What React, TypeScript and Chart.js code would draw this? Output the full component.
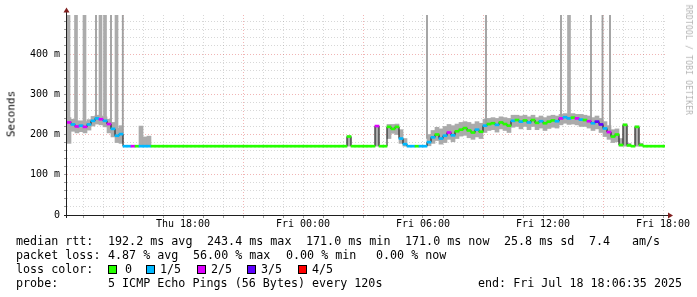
import React, { useEffect, useRef } from 'react';
import { Chart, registerables } from 'chart.js';

Chart.register(...registerables);

// ---- time base (hours since Thu 00:00) ----
const sampleStartHour = 12.2;
const sampleStepHours = 0.2;
const xMinHour = 12.2;
const xMaxHour = 42.1;
const yMaxMs = 497;

// ---- median rtt per sample (ms) ----
const medianMs = [
  230, 225, 220, 222, 219, 225, 234, 240, 238, 234,
  226, 214, 197, 201, 171, 171, 171, 171, 171, 171,
  171, 171, 171, 171, 171, 171, 171, 171, 171, 171,
  171, 171, 171, 171, 171, 171, 171, 171, 171, 171,
  171, 171, 171, 171, 171, 171, 171, 171, 171, 171,
  171, 171, 171, 171, 171, 171, 171, 171, 171, 171,
  171, 171, 171, 171, 171, 171, 171, 171, 171, 171,
  195, 171, 171, 171, 171, 171, 171, 221, 171, 171,
  219, 214, 219, 190, 176, 171, 171, 171, 171, 171,
  181, 193, 200, 190, 197, 205, 198, 208, 212, 216,
  210, 205, 212, 207, 222, 226, 228, 224, 230, 226,
  222, 234, 236, 232, 235, 230, 236, 229, 233, 228,
  232, 235, 233, 240, 243, 240, 242, 240, 237, 236,
  233, 228, 232, 225, 215, 206, 195, 200, 174, 224,
  173, 171, 219, 174, 171, 171, 171, 171, 171, 171,
];

// ---- lost pings (of 5) per sample ----
const lossCount = [
  2, 1, 2, 1, 2, 1, 1, 1, 2, 1,
  2, 1, 1, 1, 1, 1, 2, 0, 1, 1,
  1, 0, 0, 0, 0, 0, 0, 0, 0, 0,
  0, 0, 0, 0, 0, 0, 0, 0, 0, 0,
  0, 0, 0, 0, 0, 0, 0, 0, 0, 0,
  0, 0, 0, 0, 0, 0, 0, 0, 0, 0,
  0, 0, 0, 0, 0, 0, 0, 0, 0, 0,
  0, 0, 0, 0, 0, 0, 0, 2, 0, 0,
  0, 0, 0, 1, 1, 1, 1, 0, 1, 1,
  1, 1, 0, 1, 1, 2, 1, 0, 0, 0,
  0, 0, 1, 0, 1, 0, 0, 1, 0, 0,
  0, 1, 0, 1, 0, 1, 0, 0, 1, 0,
  0, 0, 1, 2, 1, 1, 0, 2, 1, 0,
  2, 1, 3, 3, 1, 2, 0, 0, 0, 0,
  0, 0, 0, 0, 0, 0, 0, 0, 0, 0,
];

// ---- smoke (min / max ping) per sample (ms) ----
const smokeLowMs = [
  178, 208, 204, 207, 204, 211, 221, 226, 224, 219,
  204, 194, 180, 178, 171, 171, 171, 171, 171, 171,
  171, 171, 171, 171, 171, 171, 171, 171, 171, 171,
  171, 171, 171, 171, 171, 171, 171, 171, 171, 171,
  171, 171, 171, 171, 171, 171, 171, 171, 171, 171,
  171, 171, 171, 171, 171, 171, 171, 171, 171, 171,
  171, 171, 171, 171, 171, 171, 171, 171, 171, 171,
  171, 171, 171, 171, 171, 171, 171, 171, 171, 171,
  190, 203, 200, 178, 171, 171, 171, 171, 171, 171,
  172, 178, 185, 176, 180, 188, 182, 190, 196, 198,
  192, 188, 194, 190, 205, 210, 212, 206, 214, 210,
  205, 218, 220, 214, 220, 212, 220, 212, 216, 210,
  215, 218, 216, 224, 228, 225, 226, 224, 220, 220,
  216, 210, 214, 205, 195, 188, 180, 182, 171, 171,
  171, 171, 171, 171, 171, 171, 171, 171, 171, 171,
];

const smokeHighMs = [
  242, 238, 234, 234, 232, 237, 245, 248, 246, 244,
  238, 230, 216, 222, 171, 171, 171, 171, 221, 194,
  196, 171, 171, 171, 171, 171, 171, 171, 171, 171,
  171, 171, 171, 171, 171, 171, 171, 171, 171, 171,
  171, 171, 171, 171, 171, 171, 171, 171, 171, 171,
  171, 171, 171, 171, 171, 171, 171, 171, 171, 171,
  171, 171, 171, 171, 171, 171, 171, 171, 171, 171,
  196, 171, 171, 171, 171, 171, 171, 222, 171, 171,
  225, 225, 226, 212, 190, 171, 171, 171, 171, 171,
  200, 210, 218, 214, 220, 225, 222, 226, 230, 232,
  230, 226, 232, 228, 238, 240, 242, 240, 244, 242,
  240, 248, 248, 246, 248, 244, 248, 242, 246, 242,
  246, 248, 246, 250, 252, 250, 252, 250, 250, 248,
  246, 242, 246, 240, 232, 222, 212, 214, 190, 226,
  178, 171, 221, 178, 171, 171, 171, 171, 171, 171,
];

// ---- off-scale ping spikes ----
const spikeWideHours = [12.275, 12.65, 13.075, 13.875, 14.1, 14.675, 37.3];
const spikeWideBaseMs = [230, 225, 222, 238, 236, 200, 243];
const spikeThinHours = [13.65, 14.4, 14.99, 30.2, 33.15, 36.9, 38.4, 38.975, 39.35];
const spikeThinBaseMs = [240, 220, 203, 190, 222, 240, 236, 228, 205];
const spikeTopMs = 600;

// ---- axis ticks ----
const xTickHours = [18, 24, 30, 36, 42];
const xTickLabels = ['Thu 18:00', 'Fri 00:00', 'Fri 06:00', 'Fri 12:00', 'Fri 18:00'];
const yTickMs = [0, 100, 200, 300, 400];
const yTickLabels = ['0', '100 m', '200 m', '300 m', '400 m'];

// ---- legend ----
const lossColors = ['#26ff00', '#00b8ff', '#dd00ff', '#5e00ff', '#ff0000'];
const lossLabels = ['0', '1/5', '2/5', '3/5', '4/5'];
const rttStats = ['192.2 ms avg', '243.4 ms max', '171.0 ms min', '171.0 ms now', '25.8 ms sd', '7.4', 'am/s'];
const lossStats = ['4.87 % avg', '56.00 % max', '0.00 % min', '0.00 % now'];
const probeText = '5 ICMP Echo Pings (56 Bytes) every 120s';
const endText = 'end: Fri Jul 18 18:06:35 2025';

const MONO = '"DejaVu Sans Mono", monospace';
const GRID = 'rgba(150,150,150,0.38)';
const MGRID = 'rgba(222,79,79,0.42)';

const axesPlugin = {
  id: 'rrdAxes',
  afterDatasetsDraw(chart: any) {
    const { ctx, chartArea: ca } = chart;
    ctx.save();
    ctx.strokeStyle = '#1f1f1f';
    ctx.lineWidth = 1;
    ctx.beginPath();
    ctx.moveTo(ca.left - 0.5, ca.bottom + 3);
    ctx.lineTo(ca.left - 0.5, ca.top - 3);
    ctx.moveTo(ca.left - 3, ca.bottom + 0.5);
    ctx.lineTo(ca.right + 4, ca.bottom + 0.5);
    ctx.stroke();
    ctx.fillStyle = '#801f1f';
    ctx.beginPath();
    ctx.moveTo(ca.left - 0.5, ca.top - 7.5);
    ctx.lineTo(ca.left - 3.5, ca.top - 2.5);
    ctx.lineTo(ca.left + 2.5, ca.top - 2.5);
    ctx.closePath();
    ctx.fill();
    ctx.beginPath();
    ctx.moveTo(ca.right + 8, ca.bottom + 0.5);
    ctx.lineTo(ca.right + 3, ca.bottom - 2.5);
    ctx.lineTo(ca.right + 3, ca.bottom + 3.5);
    ctx.closePath();
    ctx.fill();
    ctx.restore();
  },
};

export default function App() {
  const canvasRef = useRef<HTMLCanvasElement>(null);

  useEffect(() => {
    const canvas = canvasRef.current;
    if (!canvas) return;
    const centers = medianMs.map((_, i) => sampleStartHour + (i + 0.5) * sampleStepHours);
    const medianBandMs = 5;

    const chart = new Chart(canvas, {
      type: 'bar',
      data: {
        datasets: [
          {
            type: 'bar',
            label: 'smoke',
            xAxisID: 'x',
            data: centers.map((x, i) => ({ x, y: [smokeLowMs[i], smokeHighMs[i]] })),
            backgroundColor: '#ababab',
            borderWidth: 0,
            barPercentage: 1,
            categoryPercentage: 1,
            grouped: false,
            order: 5,
          },
          {
            type: 'bar',
            label: 'spikes wide',
            xAxisID: 'xs',
            data: spikeWideHours.map((x, i) => ({ x, y: [spikeWideBaseMs[i], spikeTopMs] })),
            backgroundColor: '#ababab',
            borderWidth: 0,
            barThickness: 3,
            grouped: false,
            order: 4,
          },
          {
            type: 'bar',
            label: 'spikes thin',
            xAxisID: 'xs',
            data: spikeThinHours.map((x, i) => ({ x, y: [spikeThinBaseMs[i], spikeTopMs] })),
            backgroundColor: '#a0a0a0',
            borderWidth: 0,
            barThickness: 1.2,
            grouped: false,
            order: 4,
          },
          {
            type: 'line',
            label: 'median',
            xAxisID: 'x',
            data: centers.map((x, i) => ({ x, y: medianMs[i] })),
            borderColor: '#111111',
            borderWidth: 1,
            pointRadius: 0,
            stepped: 'middle',
            fill: false,
            order: 2,
          },
          {
            type: 'bar',
            label: 'median loss color',
            xAxisID: 'x',
            data: centers.map((x, i) => ({ x, y: [medianMs[i] - medianBandMs / 2, medianMs[i] + medianBandMs / 2] })),
            backgroundColor: lossCount.map((l) => lossColors[l]),
            borderWidth: 0,
            barPercentage: 1,
            categoryPercentage: 1,
            grouped: false,
            order: 1,
          },
        ] as any,
      },
      options: {
        responsive: false,
        maintainAspectRatio: false,
        animation: false,
        events: [],
        layout: { padding: { left: 0, top: 15, right: 32, bottom: 0 } },
        plugins: { legend: { display: false }, tooltip: { enabled: false } },
        scales: {
          x: {
            type: 'linear',
            min: xMinHour,
            max: xMaxHour,
            offset: false,
            afterFit: (s: any) => { s.height = 82; },
            grid: {
              offset: false,
              drawTicks: true,
              tickLength: 3,
              lineWidth: 1,
              color: (c: any) => (c.tick && ((c.tick.value % 6) + 6) % 6 === 3 ? MGRID : GRID),
              tickColor: 'rgba(60,60,60,0.5)',
            },
            border: { display: false, dash: [1, 2] },
            ticks: {
              stepSize: 1,
              autoSkip: false,
              maxRotation: 0,
              minRotation: 0,
              includeBounds: false,
              padding: 0,
              color: '#000',
              font: { family: MONO, size: 10 },
              callback: (v: any) => {
                const n = Number(v);
                if (Math.abs(n - Math.round(n)) > 1e-6) return null;
                const k = xTickHours.indexOf(Math.round(n));
                return k >= 0 ? xTickLabels[k] : '';
              },
            },
          },
          xs: {
            type: 'linear',
            min: xMinHour,
            max: xMaxHour,
            offset: false,
            display: false,
            grid: { display: false, offset: false },
          },
          y: {
            type: 'linear',
            min: 0,
            max: yMaxMs,
            afterFit: (s: any) => { s.width = 67; },
            grid: {
              drawTicks: true,
              tickLength: 3,
              color: (c: any) => (c.tick && c.tick.value % 100 === 0 && c.tick.value > 0 ? MGRID : GRID),
              tickColor: 'rgba(60,60,60,0.5)',
            },
            border: { display: false, dash: [1, 2] },
            ticks: {
              stepSize: 20,
              autoSkip: false,
              includeBounds: false,
              padding: 4,
              color: '#000',
              font: { family: MONO, size: 10 },
              callback: (v: any) => {
                const n = Number(v);
                if (n % 20 !== 0) return null;
                const k = yTickMs.indexOf(n);
                return k >= 0 ? yTickLabels[k] : '';
              },
            },
          },
        },
      } as any,
      plugins: [axesPlugin],
    });
    return () => chart.destroy();
  }, []);

  const textStyle = (left: number, top: number): React.CSSProperties => ({
    position: 'absolute',
    left,
    top,
    fontFamily: MONO,
    fontSize: '11.7px',
    lineHeight: '11.7px',
    whiteSpace: 'pre',
    color: '#000',
  });

  const rttX = [108, 207, 306, 405, 504, 589, 632];
  const lossX = [108, 193, 286, 376];
  const boxX = [108, 146, 197, 247, 298];
  const boxLabelX = [125, 160, 211, 261, 312];
  const lineTop = [236, 250, 264, 278];

  return (
    <div style={{ position: 'absolute', left: 0, top: 0, width: 697, height: 297, background: '#fff', overflow: 'hidden' }}>
      <canvas ref={canvasRef} width={697} height={297} style={{ position: 'absolute', left: 0, top: 0, width: 697, height: 297 }} />
      <div
        style={{
          position: 'absolute', left: 11, top: 114, transform: 'translate(-50%, -50%) rotate(-90deg)',
          fontFamily: MONO, fontSize: '11px', lineHeight: '11px', whiteSpace: 'nowrap', color: '#000',
        }}
      >Seconds</div>
      <div
        style={{
          position: 'absolute', left: 688, top: 60, transform: 'translate(-50%, -50%) rotate(90deg)',
          fontFamily: MONO, fontSize: '8px', lineHeight: '8px', letterSpacing: '0.2px', whiteSpace: 'nowrap', color: '#b4b4b4',
        }}
      >RRDTOOL / TOBI OETIKER</div>

      <div style={textStyle(16, lineTop[0])}>median rtt:</div>
      {rttStats.map((t, i) => (<div key={'r' + i} style={textStyle(rttX[i], lineTop[0])}>{t}</div>))}

      <div style={textStyle(16, lineTop[1])}>packet loss:</div>
      {lossStats.map((t, i) => (<div key={'l' + i} style={textStyle(lossX[i], lineTop[1])}>{t}</div>))}

      <div style={textStyle(16, lineTop[2])}>loss color:</div>
      {lossLabels.map((t, i) => (
        <React.Fragment key={'c' + i}>
          <div style={{ position: 'absolute', left: boxX[i], top: lineTop[2] + 1, width: 7, height: 7, background: lossColors[i], border: '1px solid #000' }} />
          <div style={textStyle(boxLabelX[i], lineTop[2])}>{t}</div>
        </React.Fragment>
      ))}

      <div style={textStyle(16, lineTop[3])}>probe:</div>
      <div style={textStyle(108, lineTop[3])}>{probeText}</div>
      <div style={textStyle(478, lineTop[3])}>{endText}</div>
    </div>
  );
}
